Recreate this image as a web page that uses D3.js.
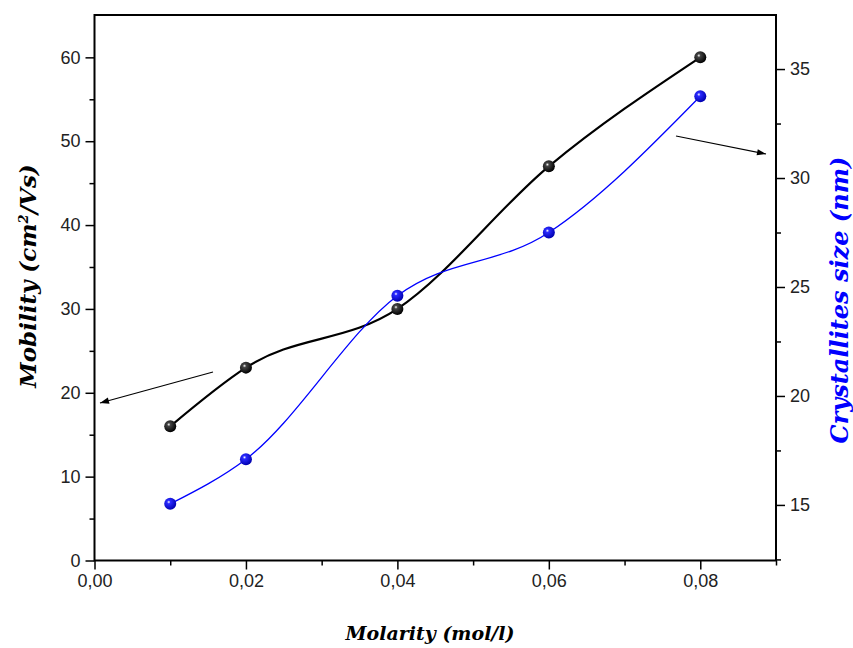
<!DOCTYPE html>
<html><head><meta charset="utf-8">
<script src="https://cdn.jsdelivr.net/npm/d3@7"></script>
<style>body{margin:0;background:#fff}svg{display:block}</style>
</head><body><svg id="c" width="853" height="648"></svg>
<script>
const molarity = [0.01, 0.02, 0.04, 0.06, 0.08];
const mobility = [16, 23, 30, 47, 60];
const crystSize = [15.05, 17.1, 24.6, 27.5, 33.75];
const xTicks = [0, 0.02, 0.04, 0.06, 0.08];
const yLeftTicks = [0, 10, 20, 30, 40, 50, 60];
const yRightTicks = [15, 20, 25, 30, 35];

const svg = d3.select("#c");
const L = 94.5, R = 776, T = 15, B = 560.5;
const x = d3.scaleLinear().domain([0, 0.09]).range([L, R]);
const yL = d3.scaleLinear().domain([0, 65.05]).range([B, T]);
const yR = d3.scaleLinear().domain([12.45, 37.48]).range([B, T]);

const defs = svg.append("defs");
function grad(id, c0, c1) {
  const g = defs.append("radialGradient").attr("id", id).attr("cx", "38%").attr("cy", "35%").attr("r", "65%");
  g.append("stop").attr("offset", "0%").attr("stop-color", "#fff");
  g.append("stop").attr("offset", "22%").attr("stop-color", c0);
  g.append("stop").attr("offset", "100%").attr("stop-color", c1);
}
grad("gk", "#444", "#000");
grad("gb", "#2a2aff", "#0000b0");
defs.append("marker").attr("id", "ah").attr("viewBox", "0 0 10 10").attr("refX", 10).attr("refY", 5)
  .attr("markerWidth", 14).attr("markerHeight", 9).attr("markerUnits", "userSpaceOnUse").attr("orient", "auto")
  .append("path").attr("d", "M0,1.5 L10,5 L0,8.5 Z").attr("fill", "#000");

const tf = "'Liberation Sans', Arial, sans-serif";
svg.append("g").attr("transform", `translate(0,${B})`)
  .call(d3.axisBottom(x).tickValues(xTicks).tickSize(9).tickPadding(5).tickFormat(d => d3.format(".2f")(d).replace(".", ",")));
svg.append("g").attr("transform", `translate(0,${B})`)
  .call(d3.axisBottom(x).tickValues([0.01, 0.03, 0.05, 0.07, 0.09]).tickSize(5).tickFormat(""));
svg.append("g").attr("transform", `translate(${L},0)`)
  .call(d3.axisLeft(yL).tickValues(yLeftTicks).tickSize(9).tickPadding(5));
svg.append("g").attr("transform", `translate(${L},0)`)
  .call(d3.axisLeft(yL).tickValues([5, 15, 25, 35, 45, 55]).tickSize(5).tickFormat(""));
svg.append("g").attr("transform", `translate(${R},0)`)
  .call(d3.axisRight(yR).tickValues(yRightTicks).tickSize(9).tickPadding(5));
svg.append("g").attr("transform", `translate(${R},0)`)
  .call(d3.axisRight(yR).tickValues([12.5, 17.5, 22.5, 27.5, 32.5]).tickSize(5).tickFormat(""));
svg.selectAll(".domain").remove();
svg.selectAll(".tick line").attr("stroke", "#000").attr("stroke-width", 1.5);
svg.selectAll(".tick text").attr("font-family", tf).attr("font-size", 18).attr("fill", "#222");
svg.append("rect").attr("x", L).attr("y", T).attr("width", R - L).attr("height", B - T)
  .attr("fill", "none").attr("stroke", "#000").attr("stroke-width", 2);

const lineK = d3.line().x((d, i) => x(molarity[i])).y(d => yL(d)).curve(d3.curveMonotoneX);
const lineB = d3.line().x((d, i) => x(molarity[i])).y(d => yR(d)).curve(d3.curveMonotoneX);
svg.append("path").attr("d", lineK(mobility)).attr("fill", "none").attr("stroke", "#000").attr("stroke-width", 2.2);
svg.append("path").attr("d", lineB(crystSize)).attr("fill", "none").attr("stroke", "#0000ff").attr("stroke-width", 1.3);

svg.selectAll("circle.k").data(mobility).join("circle").attr("class", "k")
  .attr("cx", (d, i) => x(molarity[i])).attr("cy", d => yL(d)).attr("r", 6).attr("fill", "url(#gk)");
svg.selectAll("circle.b").data(crystSize).join("circle").attr("class", "b")
  .attr("cx", (d, i) => x(molarity[i])).attr("cy", d => yR(d)).attr("r", 6).attr("fill", "url(#gb)");

svg.append("line").attr("x1", 213).attr("y1", 372).attr("x2", 100).attr("y2", 403)
  .attr("stroke", "#000").attr("stroke-width", 1.2).attr("marker-end", "url(#ah)");
svg.append("line").attr("x1", 676).attr("y1", 136).attr("x2", 766).attr("y2", 154)
  .attr("stroke", "#000").attr("stroke-width", 1.2).attr("marker-end", "url(#ah)");

const titleFont = "'DejaVu Serif', 'Liberation Serif', serif";
svg.append("text").attr("transform", "translate(36,276) rotate(-90)").attr("text-anchor", "middle")
  .attr("font-family", titleFont).attr("font-style", "italic").attr("font-weight", "bold").attr("font-size", 23)
  .attr("fill", "#000").html("Mobility (cm<tspan dy='-8' font-size='13'>2</tspan><tspan dy='8'>/Vs)</tspan>");
svg.append("text").attr("transform", "translate(848,300) rotate(-90)").attr("text-anchor", "middle")
  .attr("font-family", titleFont).attr("font-style", "italic").attr("font-weight", "bold").attr("font-size", 24)
  .attr("fill", "#0000ff").text("Crystallites size (nm)");
svg.append("text").attr("x", 430).attr("y", 640).attr("text-anchor", "middle")
  .attr("font-family", titleFont).attr("font-style", "italic").attr("font-weight", "bold").attr("font-size", 19)
  .attr("fill", "#000").text("Molarity (mol/l)");
</script></body></html>
